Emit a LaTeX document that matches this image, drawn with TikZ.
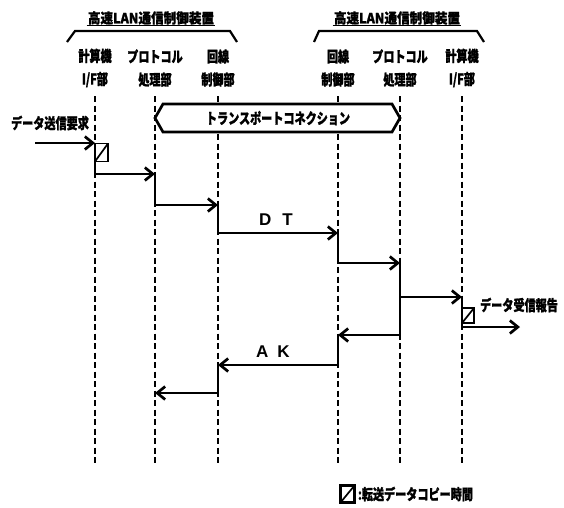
\documentclass[tikz,border=0pt]{standalone}
\usepackage{fontspec}
\newfontfamily\jp[FakeStretch=0.74,FakeBold=1.2]{Noto Sans CJK JP}
\newfontfamily\jpwide[FakeStretch=0.9,FakeBold=1.2]{Noto Sans CJK JP}
\newfontfamily\lat{Liberation Sans}
\usetikzlibrary{arrows.meta,positioning}

\tikzset{
  lifeline/.style={dash pattern=on 6pt off 3.5pt, line width=1.7pt},
  msg/.style={line width=2.7pt, -{Straight Barb[length=8pt,width=13pt,line width=2.7pt]}},
  busy/.style={line width=2.7pt},
  unitlabel/.style={font=\jp\bfseries\fontsize{15}{23}\selectfont, align=center, inner sep=0pt},
  jplabel/.style={font=\jp\bfseries\fontsize{15}{15}\selectfont, inner sep=1pt},
  msglabel/.style={above=5pt, font=\lat\bfseries\fontsize{17}{17}\selectfont, inner sep=1pt},
  copybox/.style={
    draw, line width=1.7pt, inner sep=0pt,
    minimum width=13pt, minimum height=18pt,
    path picture={\draw[line width=1.7pt] (path picture bounding box.south west) -- (path picture bounding box.north east);}
  }
}

\begin{document}
\begin{tikzpicture}[x=1pt,y=-1pt]
\useasboundingbox (0,0) rectangle (564,507);

% devices
\node[font=\jpwide\bfseries\fontsize{14}{14}\selectfont, inner sep=1pt] (devA) at (151,18) {高速LAN通信制御装置};
\node[font=\jpwide\bfseries\fontsize{14}{14}\selectfont, inner sep=1pt] (devB) at (397,18) {高速LAN通信制御装置};
\draw[line width=1.2pt] (devA.south west) -- (devA.south east);
\draw[line width=1.2pt] (devB.south west) -- (devB.south east);
\draw[line width=2.2pt] (67,42) -- (75,31) -- (230,31) -- (237,42);
\draw[line width=2.2pt] (314,42) -- (319,31) -- (477,31) -- (484,42);

% units
\node[unitlabel] (ifA) at (95,68) {計算機\\I/F部};
\node[unitlabel] (prA) at (155,68) {プロトコル\\処理部};
\node[unitlabel] (lnA) at (218,68) {回線\\制御部};
\node[unitlabel] (lnB) at (338,68) {回線\\制御部};
\node[unitlabel] (prB) at (400,68) {プロトコル\\処理部};
\node[unitlabel] (ifB) at (462,68) {計算機\\I/F部};

\foreach \u in {ifA,prA,lnA,lnB,prB,ifB}
  \draw[lifeline] (\u |- 0,96) -- (\u |- 0,465);

% transport connection
\draw[line width=2.7pt, fill=white] (prA |- 0,118) -- (163,104) -- (392,104) -- (prB |- 0,118) -- (392,132) -- (163,132) -- cycle;
\node[jplabel] (tc) at (278,118) {トランスポートコネクション};

% sending side
\coordinate (req) at (35,143);
\node[jplabel] (reqtext) at (50,123) {データ送信要求};
\draw[msg] (req) -- (ifA |- 0,143);
\node[copybox] (cpA) at (101.5,152.5) {};
\draw[busy] (ifA |- 0,143) -- (ifA |- 0,174);
\draw[msg] (ifA |- 0,174) -- (prA |- 0,174);
\draw[busy] (prA |- 0,174) -- (prA |- 0,205);
\draw[msg] (prA |- 0,205) -- (lnA |- 0,205);
\draw[busy] (lnA |- 0,205) -- (lnA |- 0,233);
\draw[msg] (lnA |- 0,233) -- node[msglabel, xshift=-2pt] (dt) {D\hspace{11pt}T} (lnB |- 0,233);

% receiving side
\draw[busy] (lnB |- 0,233) -- (lnB |- 0,263);
\draw[msg] (lnB |- 0,263) -- (prB |- 0,263);
\draw[busy] (prB |- 0,263) -- (prB |- 0,335);
\draw[msg] (prB |- 0,297) -- (ifB |- 0,297);
\draw[busy] (ifB |- 0,297) -- (ifB |- 0,327);
\node[copybox, minimum width=12pt, minimum height=15pt] (cpB) at (468,315.5) {};
\coordinate (rep) at (520,327);
\draw[msg] (ifB |- 0,327) -- (rep);
\node[jplabel] (reptext) at (519,305) {データ受信報告};

% acknowledgement
\draw[msg] (prB |- 0,335) -- (lnB |- 0,335);
\draw[busy] (lnB |- 0,335) -- (lnB |- 0,365);
\draw[msg] (lnB |- 0,365) -- node[msglabel, xshift=-5pt] (ak) {A\hspace{9pt}K} (lnA |- 0,365);
\draw[busy] (lnA |- 0,365) -- (lnA |- 0,393);
\draw[msg] (lnA |- 0,393) -- (prA |- 0,393);

% legend
\node[copybox, line width=2.6pt, minimum width=14pt, minimum height=17pt] (lgbox) at (347.5,494) {};
\node[jplabel, right=1pt of lgbox] (lgtext) {:転送データコピー時間};
\end{tikzpicture}
\end{document}
